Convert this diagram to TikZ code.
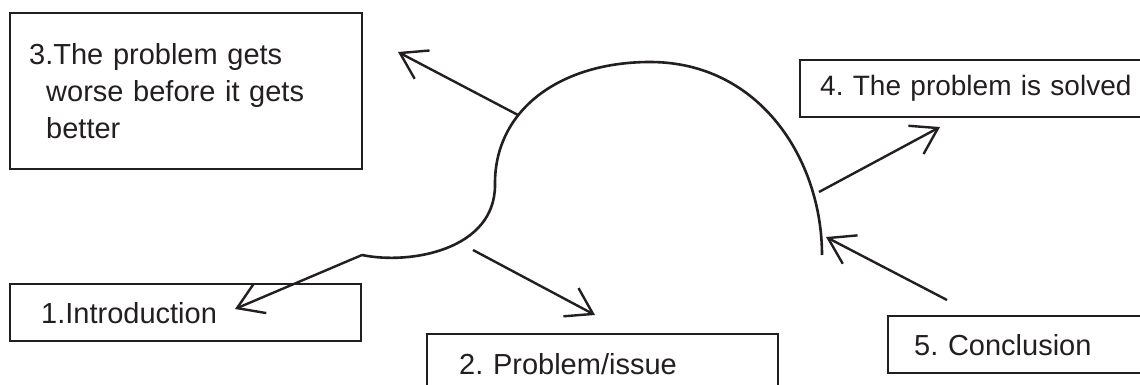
\documentclass[tikz,border=0pt]{standalone}
\usepackage{fontspec}
\setmainfont{Liberation Sans}
\usetikzlibrary{arrows.meta}
\definecolor{ink}{HTML}{231F20}
\tikzset{
  box/.style={draw=ink, line width=2.4pt, rectangle, align=left, anchor=north west,
    font=\fontsize{29}{37}\selectfont\frenchspacing, text=ink, inner ysep=0pt},
  arr/.style={draw=ink, line width=2.4pt, -{Straight Barb[length=25pt,width=32pt,line width=2.4pt]}},
  curve/.style={draw=ink, line width=2.6pt}
}
\begin{document}
\begin{tikzpicture}[x=1pt,y=-1pt]
\clip (0,0) rectangle (1140,385);
\fill[white] (0,0) rectangle (1140,385);
% boxes
\node[box, minimum width=352pt, minimum height=156pt, text width=314pt, inner xsep=19pt] (b3) at (9,12)
  {3.The problem gets\\\hspace*{17pt}worse before it gets\\\hspace*{17pt}better};
\node[box, minimum width=351pt, minimum height=57pt, text width=289pt, inner xsep=31pt] (b1) at (9,283) {1.Introduction};
\node[box, minimum width=351pt, minimum height=59pt, text width=287pt, inner xsep=32pt] (b2) at (426,333) {2. Problem/issue};
\node[box, minimum width=382pt, minimum height=57pt, text width=342pt, inner xsep=20pt,
  font=\fontsize{28}{34}\selectfont\frenchspacing] (b4) at (799,59) {4. The problem is solved};
\node[box, minimum width=300pt, minimum height=57pt, text width=248pt, inner xsep=26pt] (b5) at (887,315) {5. Conclusion};
% curve
\coordinate (c1) at (362,255);
\coordinate (c2) at (495,185);
\coordinate (c3) at (650,62);
\coordinate (c4) at (822,255);
\draw[curve] (c1) .. controls (410,265) and (495,250) .. (c2)
  .. controls (494,110) and (560,62) .. (c3)
  .. controls (760,62) and (822,160) .. (c4);
% arrow anchors
\coordinate (s1) at (362,255);
\coordinate (t1) at (235,309);
\coordinate (s2) at (473,250);
\coordinate (t2) at (595,315);
\coordinate (s3) at (518,115);
\coordinate (t3) at (398,52);
\coordinate (s4) at (819,192);
\coordinate (t4) at (940,127);
\coordinate (s5) at (947,300);
\coordinate (t5) at (826,237);
\draw[arr] (s1) -- (t1);
\draw[arr] (s2) -- (t2);
\draw[arr] (s3) -- (t3);
\draw[arr] (s4) -- (t4);
\draw[arr] (s5) -- (t5);
\end{tikzpicture}
\end{document}
